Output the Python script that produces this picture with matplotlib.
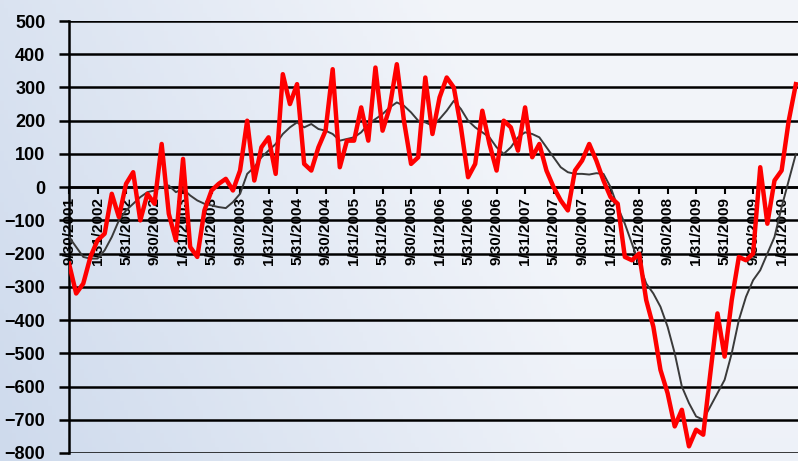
import numpy as np
import matplotlib
matplotlib.use("Agg")
import matplotlib.pyplot as plt

red_vals = [-230, -320, -290, -210, -160, -140, -20, -90, 10, 45,
            -100, -20, -50, 130, -80, -160, 85, -180, -210, -70,
            -10, 10, 25, -10, 50, 200, 20, 120, 150, 40,
            340, 250, 310, 70, 50, 120, 170, 355, 60, 140,
            140, 240, 140, 360, 170, 240, 370, 200, 70, 90,
            330, 160, 270, 330, 300, 180, 30, 70, 230, 130,
            50, 200, 180, 110, 240, 90, 130, 50, 0, -40,
            -70, 50, 80, 130, 80, 20, -30, -50, -210, -220,
            -200, -340, -420, -550, -620, -720, -670, -780, -730, -745,
            -560, -380, -510, -340, -210, -220, -200, 60, -110, 20,
            50, 200, 310]

grey_vals = [-150, -180, -210, -215, -215, -190, -150, -100, -70, -50,
             -30, -15, -10, 0, 5, -15, -5, -25, -40, -50,
             -55, -60, -63, -45, -20, 40, 60, 90, 110, 130,
             160, 180, 195, 180, 190, 175, 170, 160, 140, 145,
             150, 165, 190, 205, 220, 240, 255, 245, 225, 200,
             195, 185, 205, 230, 260, 235, 200, 180, 165, 150,
             120, 100, 120, 150, 165, 160, 150, 120, 90, 60,
             45, 40, 40, 38, 42, 40, 0, -60, -110, -170,
             -230, -290, -320, -360, -420, -500, -600, -650, -690, -700,
             -660, -620, -580, -500, -400, -330, -280, -250, -200, -150,
             -60, 20, 100]

tick_labels = ['9/30/2001', '1/31/2002', '5/31/2002', '9/30/2002', '1/31/2003',
               '5/31/2003', '9/30/2003', '1/31/2004', '5/31/2004', '9/30/2004',
               '1/31/2005', '5/31/2005', '9/30/2005', '1/31/2006', '5/31/2006',
               '9/30/2006', '1/31/2007', '5/31/2007', '9/30/2007', '1/31/2008',
               '5/31/2008', '9/30/2008', '1/31/2009', '5/31/2009', '9/30/2009',
               '1/31/2010']

x = np.arange(len(red_vals))
tick_pos = np.arange(len(tick_labels)) * 4

fig = plt.figure(figsize=(7.98, 4.61), dpi=100)

# bluish gradient backdrop, darker at bottom-left
bg = fig.add_axes([0, 0, 1, 1], zorder=0)
h, w = 100, 200
yy, xx = np.mgrid[0:1:h * 1j, 0:1:w * 1j]
d = np.sqrt((xx * 1.2) ** 2 + ((1 - yy) * 0.6) ** 2)
t = np.clip(0.25 + 0.9 * xx + 0.25 * (1 - yy), 0, 1)
t = np.clip(np.minimum(t, 1.15 - 0.25 * yy), 0, 1)
dark = np.array([0.76, 0.82, 0.91])
light = np.array([0.95, 0.96, 0.98])
img = dark[None, None, :] * (1 - t[..., None]) + light[None, None, :] * t[..., None]
bg.imshow(img, aspect='auto', extent=[0, 1, 0, 1], origin='upper')
bg.axis('off')

ax = fig.add_axes([0.0865, 0.0174, 0.9135, 0.937], zorder=1)
ax.patch.set_alpha(0)

ax.plot(x, grey_vals, color='#3a3a3a', lw=1.4, zorder=3)
ax.plot(x, red_vals, color='#ff0000', lw=3.2, zorder=4)

ax.set_ylim(-800, 500)
ax.set_xlim(0, 102.3)
ax.set_yticks(np.arange(-800, 501, 100))
ax.yaxis.grid(True, color='black', lw=1.8)
ax.set_axisbelow(True)

for s in ['top', 'right']:
    ax.spines[s].set_visible(False)
ax.spines['left'].set_linewidth(1.8)
ax.spines['bottom'].set_position(('data', 0))
ax.spines['bottom'].set_linewidth(1.8)

ax.set_xticks(tick_pos)
ax.set_xticklabels(tick_labels, rotation=90, fontweight='bold',
                   fontsize=11, family='Liberation Sans', va='top')
ax.tick_params(axis='x', length=5, width=1.5, pad=2)
ax.tick_params(axis='y', length=7, width=1.8, pad=10)
for lab in ax.get_yticklabels():
    lab.set_fontweight('bold')
    lab.set_fontsize(13)
    lab.set_family('Liberation Sans')

fig.savefig('out.png', dpi=100)
